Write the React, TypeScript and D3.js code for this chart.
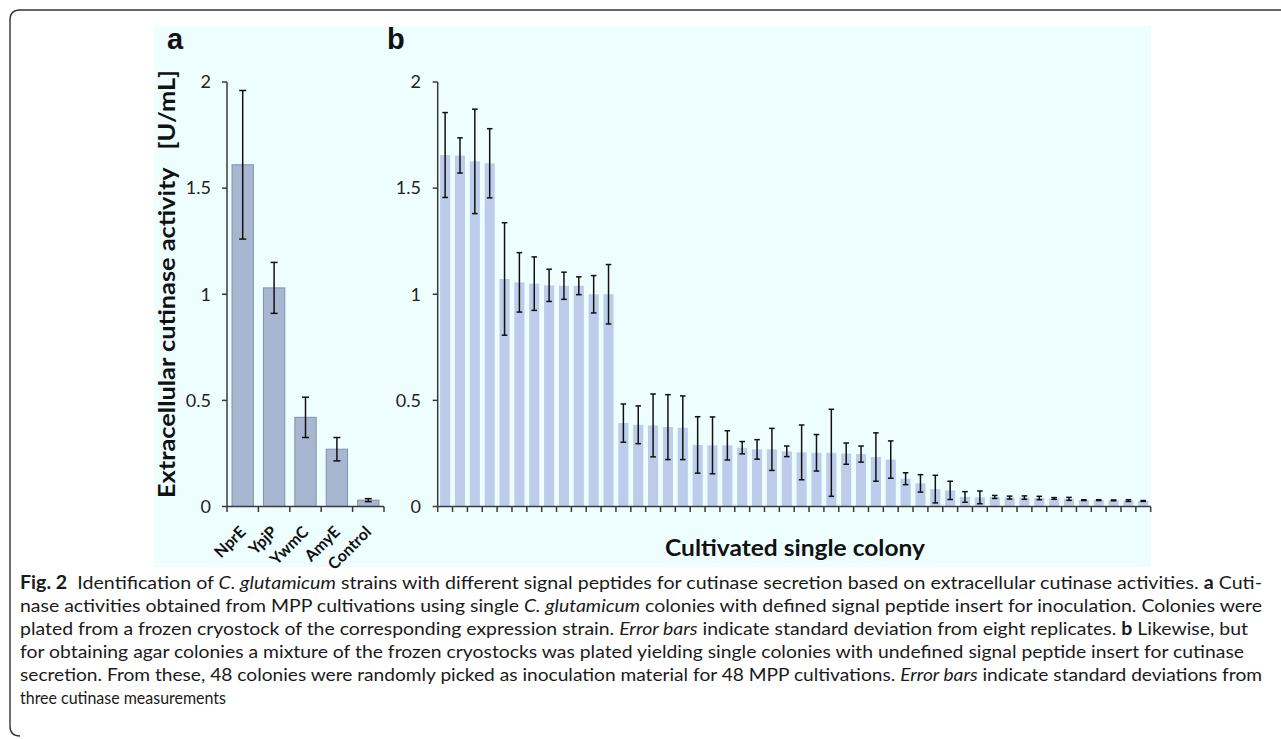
import * as d3 from "d3";

// panel a: defined signal peptides
const strains = ["NprE", "YpjP", "YwmC", "AmyE", "Control"];
const strainActivity = [1.61, 1.03, 0.42, 0.27, 0.03];
const strainSd = [0.35, 0.12, 0.095, 0.055, 0.007];

// panel b: 48 picked colonies
const colonyActivity = [
  1.656, 1.654, 1.626, 1.617, 1.072, 1.056, 1.05, 1.042, 1.04, 1.04, 1.0, 1.0,
  0.393, 0.385, 0.382, 0.374, 0.371, 0.29, 0.288, 0.288, 0.277, 0.269, 0.269, 0.26,
  0.255, 0.253, 0.253, 0.249, 0.247, 0.233, 0.221, 0.131, 0.109, 0.082, 0.076, 0.045,
  0.043, 0.045, 0.042, 0.042, 0.04, 0.038, 0.036, 0.03, 0.03, 0.029, 0.028, 0.026,
];
const colonySd = [
  0.2, 0.083, 0.246, 0.163, 0.265, 0.14, 0.126, 0.076, 0.064, 0.042, 0.088, 0.14,
  0.09, 0.089, 0.148, 0.153, 0.15, 0.133, 0.134, 0.069, 0.029, 0.046, 0.099, 0.025,
  0.129, 0.086, 0.205, 0.05, 0.038, 0.114, 0.088, 0.028, 0.041, 0.065, 0.043, 0.025,
  0.03, 0.007, 0.007, 0.008, 0.008, 0.004, 0.007, 0.002, 0.002, 0.002, 0.004, 0.002,
];

const yTicks = [0, 0.5, 1, 1.5, 2];

const W = 1281;
const H = 739;
const font = "Lato, 'Open Sans', sans-serif";
const axisColor = "#3a3a3a";

const y = d3.scaleLinear().domain([0, 2]).range([506.5, 82]);

function Panel({ left, right, cats, vals, sds, fill, stroke, tickLabelX, cap, barLabels }: any) {
  const x = d3
    .scaleBand<string>()
    .domain(cats)
    .range([left, right])
    .paddingInner(0.32)
    .paddingOuter(0.16);
  const step = x.step();
  const bounds = d3.range(cats.length + 1).map((i) => left + i * step);
  return (
    <g>
      {cats.map((c: string, i: number) => (
        <rect
          key={c}
          x={x(c)}
          y={y(vals[i])}
          width={x.bandwidth()}
          height={y(0) - y(vals[i])}
          fill={fill}
          stroke={stroke}
          strokeWidth={stroke ? 1 : 0}
        />
      ))}
      {cats.map((c: string, i: number) => {
        const cx = (x(c) as number) + x.bandwidth() / 2;
        const y1 = y(vals[i] + sds[i]);
        const y2 = y(vals[i] - sds[i]);
        return (
          <g key={"e" + c} stroke="#111" strokeWidth={1.5}>
            <line x1={cx} x2={cx} y1={y1} y2={y2} />
            <line x1={cx - cap} x2={cx + cap} y1={y1} y2={y1} />
            <line x1={cx - cap} x2={cx + cap} y1={y2} y2={y2} />
          </g>
        );
      })}
      {/* axes */}
      <line x1={left} x2={left} y1={y(2)} y2={y(0)} stroke={axisColor} strokeWidth={1.5} />
      <line x1={left} x2={right} y1={y(0)} y2={y(0)} stroke={axisColor} strokeWidth={1.5} />
      {yTicks.map((t) => (
        <g key={t}>
          <line x1={left - 5} x2={left} y1={y(t)} y2={y(t)} stroke={axisColor} strokeWidth={1.5} />
          <text
            x={tickLabelX}
            y={y(t)}
            dy="0.35em"
            textAnchor="end"
            fontFamily={font}
            fontSize={18}
            fill="#222"
          >
            {t}
          </text>
        </g>
      ))}
      {bounds.map((b, i) => (
        <line key={i} x1={b} x2={b} y1={y(0)} y2={y(0) + 5.5} stroke={axisColor} strokeWidth={1.5} />
      ))}
      {barLabels &&
        cats.map((c: string) => {
          const px = (x(c) as number) + x.bandwidth() / 2 + 4;
          const py = 533;
          return (
            <text
              key={"l" + c}
              transform={`translate(${px},${py}) rotate(-45)`}
              textAnchor="end"
              fontFamily={font}
              fontWeight="bold"
              fontSize={16}
              fill="#111"
            >
              {c}
            </text>
          );
        })}
    </g>
  );
}

const capLines: { parts: [string, string][]; len: number }[] = [
  {
    parts: [
      ["b", "Fig. 2"],
      ["n", "  Identification of "],
      ["i", "C. glutamicum"],
      ["n", " strains with different signal peptides for cutinase secretion based on extracellular cutinase activities. "],
      ["b", "a"],
      ["n", " Cuti-"],
    ],
    len: 1242,
  },
  {
    parts: [
      ["n", "nase activities obtained from MPP cultivations using single "],
      ["i", "C. glutamicum"],
      ["n", " colonies with defined signal peptide insert for inoculation. Colonies were"],
    ],
    len: 1242,
  },
  {
    parts: [
      ["n", "plated from a frozen cryostock of the corresponding expression strain. "],
      ["i", "Error bars"],
      ["n", " indicate standard deviation from eight replicates. "],
      ["b", "b"],
      ["n", " Likewise, but"],
    ],
    len: 1228,
  },
  {
    parts: [
      ["n", "for obtaining agar colonies a mixture of the frozen cryostocks was plated yielding single colonies with undefined signal peptide insert for cutinase"],
    ],
    len: 1224,
  },
  {
    parts: [
      ["n", "secretion. From these, 48 colonies were randomly picked as inoculation material for 48 MPP cultivations. "],
      ["i", "Error bars"],
      ["n", " indicate standard deviations from"],
    ],
    len: 1242,
  },
  { parts: [["n", "three cutinase measurements"]], len: 206 },
];

export default function App() {
  const colonies = colonyActivity.map((_, i) => String(i + 1));
  return (
    <svg
      width={W}
      height={H}
      viewBox={`0 0 ${W} ${H}`}
      style={{ position: "absolute", left: 0, top: 0, background: "#fff" }}
    >
      <path
        d="M1281,10 L20,10 Q10,10 10,20 L10,726 Q10,736 20,736"
        fill="none"
        stroke="#333"
        strokeWidth={1.4}
      />
      <rect x={154} y={26} width={997} height={541} fill="#EEFEFF" />

      <text x={167} y={49} fontFamily="Arial, 'Liberation Sans', sans-serif" fontWeight="bold" fontSize={29} fill="#111">
        a
      </text>
      <text x={387} y={49} fontFamily="Arial, 'Liberation Sans', sans-serif" fontWeight="bold" fontSize={29} fill="#111">
        b
      </text>

      <text
        transform="translate(175,284) rotate(-90)"
        textAnchor="middle"
        fontFamily={font}
        fontWeight="bold"
        fontSize={23}
        fill="#111"
        textLength={428}
        lengthAdjust="spacingAndGlyphs"
        style={{ whiteSpace: "pre" }}
      >
        {"Extracellular cutinase activity   [U/mL]"}
      </text>

      <Panel
        left={227}
        right={384}
        cats={strains}
        vals={strainActivity}
        sds={strainSd}
        fill="#A8B6D1"
        stroke="#8490AA"
        tickLabelX={211}
        cap={3.5}
        barLabels
      />
      <Panel
        left={437.7}
        right={1150.7}
        cats={colonies}
        vals={colonyActivity}
        sds={colonySd}
        fill="#BCCCEA"
        stroke={null}
        tickLabelX={421}
        cap={2.8}
      />

      <text
        x={795}
        y={556}
        textAnchor="middle"
        fontFamily={font}
        fontWeight="bold"
        fontSize={23}
        fill="#111"
        textLength={260}
        lengthAdjust="spacingAndGlyphs"
      >
        Cultivated single colony
      </text>

      {capLines.map((ln, i) => (
        <text
          key={i}
          x={20}
          y={589 + i * 23}
          fontFamily={font}
          fontSize={18}
          fill="#1a1a1a"
          textLength={ln.len}
          lengthAdjust="spacingAndGlyphs"
          style={{ whiteSpace: "pre" }}
        >
          {ln.parts.map(([s, t], j) => (
            <tspan key={j} fontWeight={s === "b" ? "bold" : "normal"} fontStyle={s === "i" ? "italic" : "normal"}>
              {t}
            </tspan>
          ))}
        </text>
      ))}
    </svg>
  );
}
